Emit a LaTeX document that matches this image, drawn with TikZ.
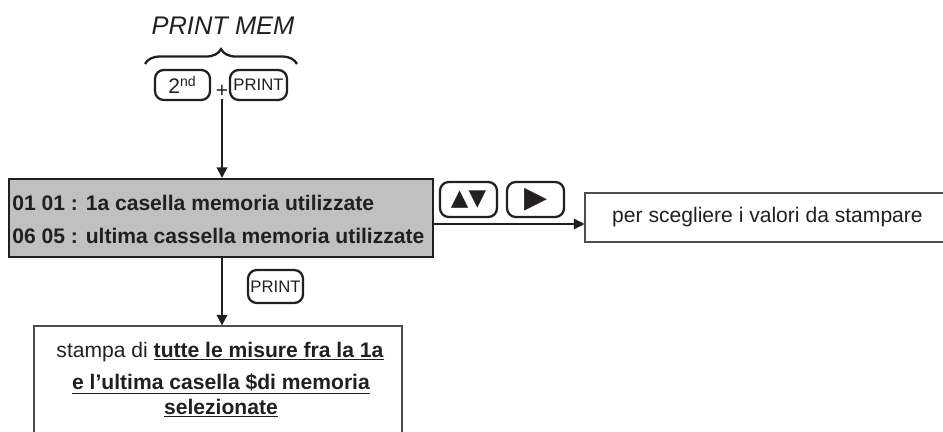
\documentclass[tikz,border=0pt]{standalone}
\usepackage{fontspec}
\setmainfont{Liberation Sans}
\newfontfamily\symfont{DejaVu Sans}
\usetikzlibrary{arrows.meta,decorations.pathreplacing}
\definecolor{ink}{RGB}{35,31,32}
\definecolor{panelgray}{RGB}{192,192,192}
\tikzset{
  key/.style={draw=ink,line width=1.3pt,rounded corners=5pt,minimum height=0.6cm,inner sep=0pt},
  info/.style={draw=ink!80,line width=0.7pt},
  plain/.style={font=\fontsize{12}{14}\selectfont},
  bold/.style={font=\fontsize{12}{14}\selectfont\bfseries},
  >={Triangle[length=6pt,width=6pt]}
}
\begin{document}
\begin{tikzpicture}[x=0.02cm,y=-0.02cm,text=ink]
\useasboundingbox (0,0) rectangle (943,432);
\clip (0,0) rectangle (943,432);
% key combination
\node[anchor=base,font=\fontsize{14.5}{17}\selectfont\itshape] (title) at (223,35) {PRINT MEM};
\draw[ink,line width=1.3pt,decorate,decoration={brace,amplitude=8.5pt}] (145,64) -- (297,64);
\node[key,minimum width=1.1cm,font=\fontsize{12}{12}\selectfont] (second) at (182.5,85) {2\textsuperscript{nd}};
\node[plain,inner sep=1pt] (plus) at (222,91) {+};
\node[key,minimum width=1.14cm,font=\fontsize{9.5}{9.5}\selectfont] (print) at (258.5,85) {PRINT};
% memory display
\node[draw=ink,line width=1.2pt,fill=panelgray,minimum width=8.48cm,minimum height=1.56cm] (memory) at (221,218) {};
\node[bold,anchor=base west,inner sep=0pt] (first) at (12,211) {01 01 : 1a casella memoria utilizzate};
\node[bold,anchor=base west,inner sep=0pt] (last) at (12,244) {06 05 : ultima cassella memoria utilizzate};
\draw[->,ink,line width=1.1pt] (plus.south) -- (plus |- memory.north);
% selection
\node[key,minimum width=1.14cm,minimum height=0.7cm,font=\symfont\fontsize{13}{13}\selectfont] (updown) at (468.5,199.5) {▲▼};
\node[key,minimum width=1.14cm,minimum height=0.7cm,font=\symfont\fontsize{17}{17}\selectfont] (next) at (535.5,199.5) {▶};
\node[info,plain,minimum width=7.3cm,minimum height=0.98cm] (choose) at (767.5,217.5) {per scegliere i valori da stampare};
\draw[->,ink,line width=1.1pt] (memory.east |- 0,224) -- (choose.west |- 0,224);
% printing
\node[key,minimum width=1.1cm,minimum height=0.66cm,font=\fontsize{9.5}{9.5}\selectfont] (print2) at (275.5,286.5) {PRINT};
\node[info,minimum width=7.36cm,minimum height=2.8cm] (result) at (218,396) {};
\node[plain,anchor=base,inner sep=0pt] (row1) at (220,357) {stampa di \underline{\textbf{tutte le misure fra la 1a}}};
\node[bold,anchor=base,inner sep=0pt] (row2) at (221,389) {\underline{e l’ultima casella \$di memoria}};
\node[bold,anchor=base,inner sep=0pt] (row3) at (221,414) {\underline{selezionate}};
\draw[->,ink,line width=1.1pt] (plus |- memory.south) -- (plus |- result.north);
\end{tikzpicture}
\end{document}
